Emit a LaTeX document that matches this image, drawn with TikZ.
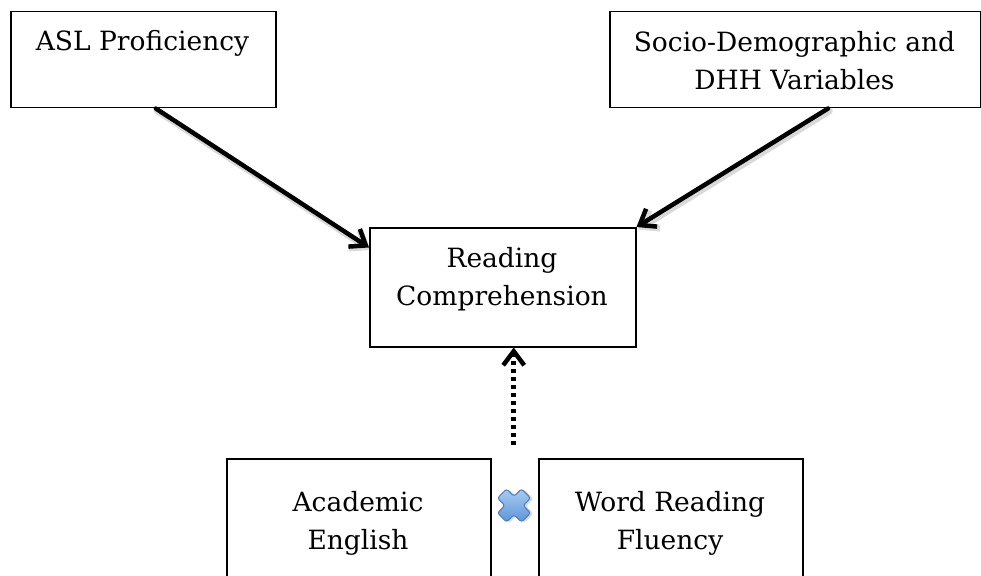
\documentclass[tikz,border=0pt]{standalone}
\usepackage{fontspec}
\setmainfont{DejaVu Serif}
\usetikzlibrary{arrows.meta,calc}
\definecolor{xfill1}{HTML}{A9CDF3}
\definecolor{xfill2}{HTML}{5E94D6}
\definecolor{xline}{HTML}{4A7EBF}
\begin{document}
\begin{tikzpicture}[x=1pt,y=-1pt,
  box/.style={draw, line width=1.5pt, inner sep=0pt, anchor=north west},
  txt/.style={inner sep=0pt, anchor=base, font=\fontsize{26.5}{38}\selectfont},
  arrtip/.style={-{Straight Barb[length=14pt,width=21pt]}},
  arr/.style={line width=4.5pt, arrtip, line cap=round},
  shad/.style={draw=black, opacity=0.15, line width=6.5pt, line cap=round, arrtip,
    transform canvas={shift={(1.5pt,-2.5pt)}}},
]
\useasboundingbox (0,0) rectangle (981,575);
\fill[white] (0,0) rectangle (981,575);

% boxes
\node[box, minimum width=265pt, minimum height=96pt] (asl) at (10,11) {};
\node[box, minimum width=371pt, minimum height=96pt] (sdv) at (609,11) {};
\node[box, minimum width=266pt, minimum height=119pt] (rc) at (369,227) {};
\node[box, minimum width=264pt, minimum height=140pt] (ae) at (226,458) {};
\node[box, minimum width=264pt, minimum height=140pt] (wrf) at (538,458) {};

% texts
\node[txt] (asl-t) at (142.5,51) {ASL Proficiency};
\node[txt] (sdv-t1) at (794.5,52) {Socio-Demographic and};
\node[txt] (sdv-t2) at (794.5,90) {DHH Variables};
\node[txt] (rc-t1) at (502,267) {Reading};
\node[txt] (rc-t2) at (502,305) {Comprehension};
\node[txt] (ae-t1) at (358,511) {Academic};
\node[txt] (ae-t2) at (358,549) {English};
\node[txt] (wrf-t1) at (670,511) {Word Reading};
\node[txt] (wrf-t2) at (670,549) {Fluency};

% connectors
\coordinate (a1s) at ($(asl.south west)!0.547!(asl.south east)$);
\coordinate (a1e) at ($(rc.north west)!0.17!(rc.south west)$);
\coordinate (a2s) at ($(sdv.south west)!0.588!(sdv.south east)$);
\coordinate (a2e) at (rc.north east);
\coordinate (dtip) at ($(rc.south west)!0.541!(rc.south east)$);
\coordinate (dstart) at ($(dtip)+(0,97)$);

\draw[shad] (a1s) -- (a1e);
\draw[shad] (a2s) -- (a2e);
\draw[arr] (a1s) -- (a1e);
\draw[arr] (a2s) -- (a2e);
\draw[line width=4.5pt, dash pattern=on 4pt off 4pt, arrtip] (dstart) -- (dtip);

% cross icon
\begin{scope}[shift={(514,505.5)}]
  \fill[black, opacity=0.15, rotate=45, shift={(1.5,2.5)}, rounded corners=2.5pt]
    (17,6.5) -- (6.5,6.5) -- (6.5,17) -- (-6.5,17) -- (-6.5,6.5) -- (-17,6.5) --
    (-17,-6.5) -- (-6.5,-6.5) -- (-6.5,-17) -- (6.5,-17) -- (6.5,-6.5) -- (17,-6.5) -- cycle;
  \shade[top color=xfill1, bottom color=xfill2, draw=xline, line width=1pt,
    rotate=45, rounded corners=2.5pt]
    (17,6.5) -- (6.5,6.5) -- (6.5,17) -- (-6.5,17) -- (-6.5,6.5) -- (-17,6.5) --
    (-17,-6.5) -- (-6.5,-6.5) -- (-6.5,-17) -- (6.5,-17) -- (6.5,-6.5) -- (17,-6.5) -- cycle;
\end{scope}
\end{tikzpicture}
\end{document}
